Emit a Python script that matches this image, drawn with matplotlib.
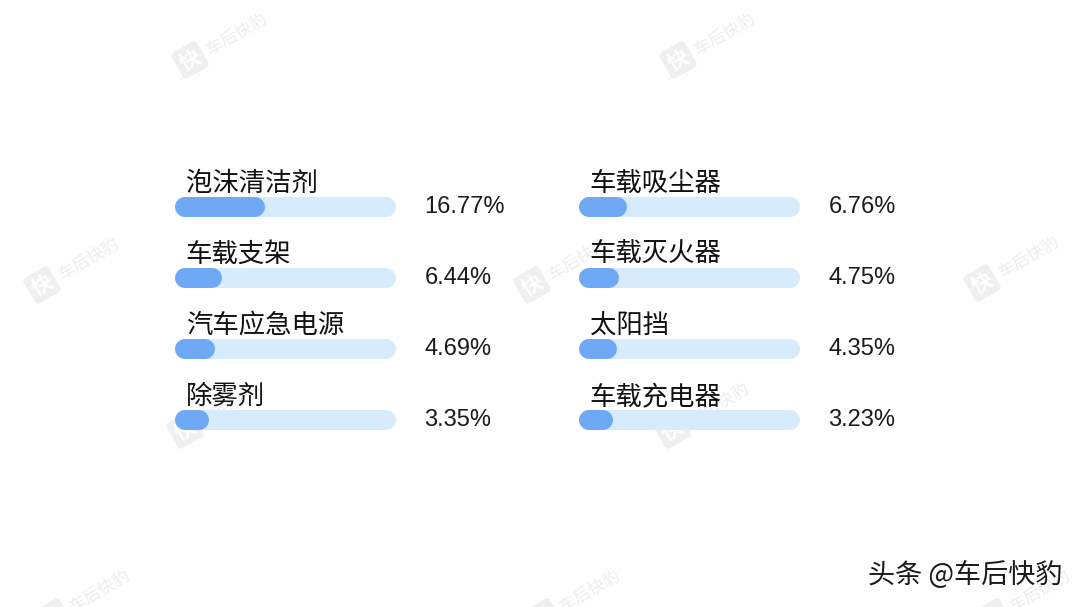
import matplotlib.pyplot as plt
import numpy as np

plt.rcParams['font.family'] = ['Noto Sans CJK SC', 'DejaVu Sans']

# データ
left_names = ['泡沫清洁剂', '车载支架', '汽车应急电源', '除雾剂']
left_values = [16.77, 6.44, 4.69, 3.35]
right_names = ['车载吸尘器', '车载灭火器', '太阳挡', '车载充电器']
right_values = [6.76, 4.75, 4.35, 3.23]
track_max = 48

W, H = 1080, 607
fig = plt.figure(figsize=(W / 100, H / 100), dpi=100)
fig.patch.set_facecolor('white')

# 透かし (watermark) - 背景用のaxesに描く
bg = fig.add_axes([0, 0, 1, 1], zorder=0)
bg.set_xlim(0, W)
bg.set_ylim(H, 0)
bg.axis('off')
marks = [(190, 60), (678, 60), (42, 285), (532, 285), (982, 283),
         (185, 430), (672, 430), (53, 617), (543, 617), (993, 617)]
for cx, cy in marks:
    bg.text(cx, cy, '快', color='white', fontsize=15, fontweight='bold',
            rotation=30, ha='center', va='center', clip_on=False,
            bbox=dict(boxstyle='round,pad=0.2', fc='#efefef', ec='none'))
    bg.text(cx + 47, cy - 25, '车后快豹', color='#ededed', fontsize=12,
            rotation=30, ha='center', va='center', clip_on=False)

def draw_column(left_px, names, values):
    ax = fig.add_axes([left_px / W, (H - 455.5) / H, 418 / W, 284 / H], zorder=1)
    ax.set_xlim(0, 100)
    ax.set_ylim(3.5, -0.5)
    ax.axis('off')
    ax.patch.set_alpha(0)
    for i, (name, v) in enumerate(zip(names, values)):
        ax.plot([0, track_max], [i, i], lw=14.4, color='#d6ebfb',
                solid_capstyle='round', clip_on=False, zorder=2)
        ax.plot([0, v], [i, i], lw=14.4, color='#6fa8f5',
                solid_capstyle='round', clip_on=False, zorder=3)
        ax.annotate(name, (0, i), xytext=(0.5, 17), textcoords='offset points',
                    ha='left', va='center', fontsize=19, color='#111111')
        ax.annotate(f'{v:.2f}%', (track_max, i), xytext=(28, 0), textcoords='offset points',
                    ha='left', va='center', fontsize=17, color='#1a1a1a',
                    family=['Liberation Sans', 'DejaVu Sans'])
    return ax

draw_column(185, left_names, left_values)
draw_column(589, right_names, right_values)

fig.text(1062 / W, 1 - 575 / H, '头条 @车后快豹', ha='right', va='center',
         fontsize=19.5, color='#1a1a1a', zorder=5)

fig.savefig('out.png', dpi=100, facecolor='white')
